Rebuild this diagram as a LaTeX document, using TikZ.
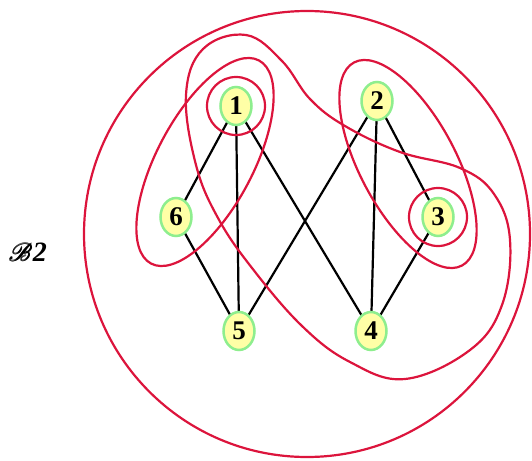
\documentclass[tikz,border=0pt]{standalone}
\usepackage{fontspec}
\setmainfont{Liberation Serif}
\usepackage{amsmath}
\usepackage{mathrsfs}
\usetikzlibrary{shapes.geometric}
\definecolor{hred}{HTML}{DC143C}
\definecolor{nfill}{HTML}{FFFFA6}
\definecolor{nborder}{HTML}{8EEE8E}
\begin{document}
\begin{tikzpicture}[x=1pt,y=1pt,
  vtx/.style={ellipse, draw=nborder, fill=nfill, line width=2.5pt,
    minimum width=31pt, minimum height=38pt, inner sep=0pt,
    font=\fontsize{27}{27}\selectfont\bfseries},
  gedge/.style={line width=2.2pt, draw=black},
  hyper/.style={draw=hred, line width=2.2pt}]
\useasboundingbox (0,0) rectangle (532,-460);
% vertex positions
\coordinate (p1) at (236,-106);
\coordinate (p2) at (377,-101);
\coordinate (p3) at (438,-217);
\coordinate (p4) at (371,-331);
\coordinate (p5) at (239,-331);
\coordinate (p6) at (176,-217);
% graph edges
\draw[gedge] (p1) -- (p6);
\draw[gedge] (p1) -- (p5);
\draw[gedge] (p1) -- (p4);
\draw[gedge] (p2) -- (p5);
\draw[gedge] (p2) -- (p4);
\draw[gedge] (p2) -- (p3);
\draw[gedge] (p3) -- (p4);
\draw[gedge] (p6) -- (p5);
% hyperedges
\draw[hyper] (307,-234) circle (223);
\draw[hyper] (p1) circle (29);
\draw[hyper] (p3) circle (29);
\draw[hyper] (205,-162) ellipse [x radius=115, y radius=48, rotate=62];
\draw[hyper] (408,-164) ellipse [x radius=115, y radius=48, rotate=-62];
\draw[hyper] plot[smooth cycle, tension=0.65] coordinates {
  (186,-95) (203,-49) (246,-35) (282,-61) (310,-99) (345,-126)
  (400,-152) (460,-168) (494,-194) (510,-240) (502,-305) (470,-350)
  (405,-379) (350,-362) (302,-326) (252,-268) (218,-218) (196,-165)};
% nodes
\node[vtx] (n1) at (p1) {1};
\node[vtx] (n2) at (p2) {2};
\node[vtx] (n3) at (p3) {3};
\node[vtx] (n4) at (p4) {4};
\node[vtx] (n5) at (p5) {5};
\node[vtx] (n6) at (p6) {6};
\node (lbl) at (28,-252) {\fontsize{28}{28}\selectfont\pmb{$\mathscr{B}$}\textbf{\textit{2}}};
\end{tikzpicture}
\end{document}
